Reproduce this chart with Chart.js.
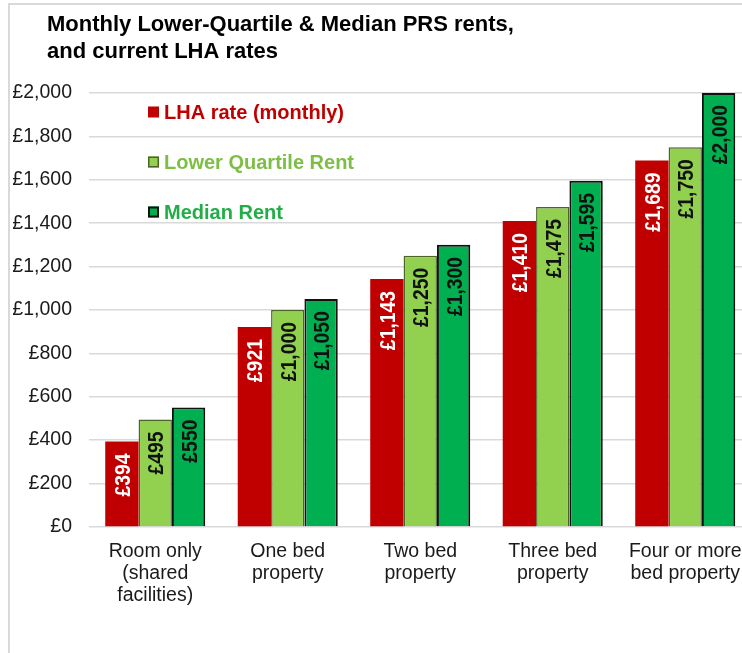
<!DOCTYPE html>
<html>
<head>
<meta charset="utf-8">
<script src="https://cdn.jsdelivr.net/npm/chart.js@4/dist/chart.umd.min.js"></script>
<style>
  html, body { margin: 0; padding: 0; background: #fff; overflow: hidden; width: 742px; height: 653px; }
  #frame { position: absolute; left: 8px; top: 3px; width: 800px; height: 700px; border: 2px solid #d9d9d9; box-sizing: border-box; pointer-events: none; }
  #c { position: absolute; left: 0; top: 0; }
</style>
</head>
<body>
<div id="frame"></div>
<canvas id="c" width="770" height="653"></canvas>
<script>
// ---- Data ----
const categories = [
  ["Room only", "(shared", "facilities)"],
  ["One bed", "property"],
  ["Two bed", "property"],
  ["Three bed", "property"],
  ["Four or more", "bed property"]
];
const seriesNames = ["LHA rate (monthly)", "Lower Quartile Rent", "Median Rent"];
const lhaRate = [394, 921, 1143, 1410, 1689];
const lowerQuartileRent = [495, 1000, 1250, 1475, 1750];
const medianRent = [550, 1050, 1300, 1595, 2000];
const yTickMin = 0, yTickMax = 2000, yTickStep = 200;
const titleLines = ["Monthly Lower-Quartile & Median PRS rents,", "and current LHA rates"];

// ---- Styles ----
const fillColors = ["#C00000", "#92D050", "#00B050"];
const borderColors = ["#C00000", "#4F6228", "#111111"];
const borderWidths = [0, 1.5, 2];
const labelColors = ["#FFFFFF", "#111111", "#111111"];
const legendTextColors = ["#C00000", "#7DBE45", "#22AD47"];
const FONT = '"Liberation Sans", Arial, Helvetica, sans-serif';

const fmt = v => "£" + v.toLocaleString("en-GB");

const titlePlugin = {
  id: "customTitle",
  afterDraw(chart) {
    const ctx = chart.ctx;
    ctx.save();
    ctx.font = "bold 22px " + FONT;
    ctx.fillStyle = "#000";
    ctx.textAlign = "left";
    ctx.textBaseline = "alphabetic";
    titleLines.forEach((t, i) => ctx.fillText(t, 47, 31 + i * 27));
    ctx.restore();
  }
};

const legendPlugin = {
  id: "insideLegend",
  afterDraw(chart) {
    const ctx = chart.ctx;
    const a = chart.chartArea;
    const x0 = a.left + 59, y0 = a.top + 19;
    ctx.save();
    chart.data.datasets.forEach((ds, i) => {
      const cy = y0 + i * 50;
      ctx.fillStyle = ds.backgroundColor;
      ctx.fillRect(x0, cy - 5.5, 11, 11);
      if (borderWidths[i] > 0) {
        ctx.lineWidth = borderWidths[i];
        ctx.strokeStyle = ds.borderColor;
        ctx.strokeRect(x0 + borderWidths[i] / 2, cy - 5.5 + borderWidths[i] / 2, 11 - borderWidths[i], 11 - borderWidths[i]);
      }
      ctx.font = "bold 20px " + FONT;
      ctx.fillStyle = legendTextColors[i];
      ctx.textAlign = "left";
      ctx.textBaseline = "middle";
      ctx.fillText(ds.label, x0 + 16, cy + 1);
    });
    ctx.restore();
  }
};

const valueLabelPlugin = {
  id: "valueLabels",
  afterDatasetsDraw(chart) {
    const ctx = chart.ctx;
    chart.data.datasets.forEach((ds, i) => {
      const meta = chart.getDatasetMeta(i);
      meta.data.forEach((bar, j) => {
        ctx.save();
        ctx.translate(bar.x + 2, bar.y + 12);
        ctx.rotate(-Math.PI / 2);
        ctx.scale(0.88, 1);
        ctx.font = "bold 22px " + FONT;
        ctx.fillStyle = labelColors[i];
        ctx.textAlign = "right";
        ctx.textBaseline = "middle";
        ctx.fillText(fmt(ds.data[j]), 0, 0);
        ctx.restore();
      });
    });
  }
};

const datasets = [lhaRate, lowerQuartileRent, medianRent].map((d, i) => ({
  label: seriesNames[i],
  data: d,
  backgroundColor: fillColors[i],
  borderColor: borderColors[i],
  borderWidth: borderWidths[i],
  borderSkipped: "start",
  categoryPercentage: 0.755,
  barPercentage: 1.0
}));

new Chart(document.getElementById("c"), {
  type: "bar",
  data: { labels: categories, datasets },
  options: {
    responsive: false,
    devicePixelRatio: 1,
    animation: false,
    layout: { padding: { left: 13, top: 93, right: 18.5, bottom: 32 } },
    plugins: {
      legend: { display: false },
      title: { display: false },
      tooltip: { enabled: false }
    },
    scales: {
      x: {
        grid: { display: false, drawTicks: false },
        border: { display: false },
        ticks: {
          color: "#1a1a1a",
          font: { family: FONT, size: 19.5, lineHeight: 1.13 },
          padding: 14,
          maxRotation: 0,
          minRotation: 0,
          autoSkip: false
        }
      },
      y: {
        min: yTickMin,
        max: yTickMax,
        afterFit: s => { s.width = 76; },
        grid: { color: "#d9d9d9", lineWidth: 1.5, drawTicks: false },
        border: { display: false },
        ticks: {
          stepSize: yTickStep,
          color: "#1a1a1a",
          font: { family: FONT, size: 19.5 },
          padding: 17,
          callback: v => fmt(v)
        }
      }
    }
  },
  plugins: [valueLabelPlugin, legendPlugin, titlePlugin]
});
</script>
</body>
</html>
